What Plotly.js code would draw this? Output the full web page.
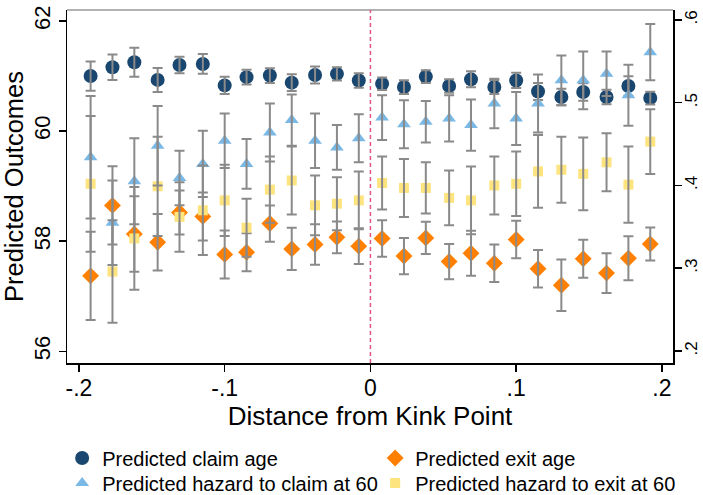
<!DOCTYPE html>
<html>
<head>
<meta charset="utf-8">
<script src="https://cdn.plot.ly/plotly-3.0.1.min.js"></script>
<style>html,body{margin:0;padding:0;background:#fff}#chart{width:703px;height:495px}</style>
</head>
<body>
<div id="chart"></div>
<script>
// Bin centres (distance from kink point)
const xBins = [-0.192,-0.177,-0.162,-0.146,-0.131,-0.115,-0.100,-0.085,-0.069,-0.054,-0.038,-0.023,-0.008,
               0.008,0.023,0.038,0.054,0.069,0.085,0.100,0.115,0.131,0.146,0.162,0.177,0.192];

// Left axis: predicted ages
const claimAge    = [61.00,61.16,61.25,60.93,61.20,61.22,60.83,60.98,61.01,60.88,61.02,61.04,60.92,
                     60.86,60.80,60.99,60.82,60.94,60.80,60.92,60.72,60.62,60.71,60.62,60.82,60.60];
const claimAgeErr = [0.265,0.233,0.263,0.218,0.151,0.179,0.157,0.134,0.134,0.151,0.154,0.121,0.131,
                     0.115,0.124,0.115,0.124,0.145,0.127,0.139,0.153,0.151,0.158,0.131,0.176,0.115];
const exitAge     = [57.37,58.65,58.13,57.98,58.52,58.45,57.76,57.80,58.32,57.86,57.94,58.07,57.91,
                     58.05,57.73,58.06,57.63,57.78,57.60,58.03,57.50,57.20,57.68,57.42,57.69,57.95];
const exitAgeErr  = [0.80,0.71,0.685,0.514,0.40,0.436,0.436,0.345,0.33,0.385,0.369,0.287,0.323,
                     0.332,0.33,0.294,0.32,0.41,0.342,0.34,0.34,0.467,0.345,0.363,0.40,0.30];

// Right axis: predicted hazards at 60
const hazClaim    = [0.434,0.355,0.405,0.448,0.409,0.426,0.454,0.426,0.464,0.479,0.454,0.446,0.457,
                     0.482,0.474,0.477,0.481,0.473,0.499,0.481,0.499,0.527,0.527,0.535,0.509,0.561];
const hazClaimErr = [0.074,0.051,0.052,0.048,0.033,0.040,0.033,0.030,0.035,0.031,0.033,0.027,0.029,
                     0.027,0.029,0.025,0.028,0.031,0.030,0.032,0.035,0.030,0.035,0.027,0.037,0.034];
const hazExit     = [0.402,0.296,0.336,0.399,0.362,0.370,0.382,0.349,0.395,0.406,0.376,0.378,0.382,
                     0.403,0.397,0.397,0.385,0.382,0.400,0.402,0.417,0.419,0.414,0.428,0.401,0.453];
const hazExitErr  = [0.082,0.062,0.062,0.060,0.042,0.054,0.043,0.035,0.040,0.041,0.036,0.032,0.035,
                     0.032,0.035,0.031,0.033,0.041,0.035,0.039,0.044,0.040,0.044,0.035,0.046,0.039];

const seriesNames = ['Predicted claim age','Predicted exit age',
                     'Predicted hazard to claim at 60','Predicted hazard to exit at 60'];
const xTickVals = [-0.2,-0.1,0,0.1,0.2];
const xTickText = ['-.2','-.1','0','.1','.2'];
const yTickVals = [56,58,60,62];
const y2TickVals = [0.2,0.3,0.4,0.5,0.6];
const y2TickText = ['.2','.3','.4','.5','.6'];

const errColor = '#8a8a8a';
function errTrace(y, err, axis){
  return {x:xBins, y:y, type:'scatter', mode:'markers', yaxis:axis, showlegend:false, hoverinfo:'skip',
    marker:{size:1, color:'rgba(0,0,0,0)'},
    error_y:{type:'data', array:err, visible:true, color:errColor, thickness:2, width:5}};
}

const data = [
  {x:xBins, y:claimAge, type:'scatter', mode:'markers', name:seriesNames[0], yaxis:'y', legend:'legend',
   marker:{symbol:'circle', size:14, color:'#1a476f'}},
  {x:xBins, y:exitAge, type:'scatter', mode:'markers', name:seriesNames[1], yaxis:'y', legend:'legend',
   marker:{symbol:'diamond', size:13, color:'#ff8000'}},
  errTrace(claimAge, claimAgeErr, 'y'),
  errTrace(exitAge, exitAgeErr, 'y'),
  {x:xBins, y:hazClaim, type:'scatter', mode:'markers', name:seriesNames[2], yaxis:'y2', legend:'legend2',
   marker:{symbol:'triangle-up', size:12, color:'#7ab8e6'}},
  {x:xBins, y:hazExit, type:'scatter', mode:'markers', name:seriesNames[3], yaxis:'y2', legend:'legend2',
   marker:{symbol:'square', size:10, color:'#fde47f'}},
  errTrace(hazClaim, hazClaimErr, 'y2'),
  errTrace(hazExit, hazExitErr, 'y2')
];

const font = 'Liberation Sans, Arial, Helvetica, sans-serif';
const legendBase = {orientation:'h', x:-0.008, xanchor:'left', yanchor:'middle',
    entrywidth:268, entrywidthmode:'pixels', font:{size:20}, itemsizing:'trace',
    bgcolor:'rgba(0,0,0,0)', traceorder:'normal'};
const layout = {
  width:703, height:495,
  margin:{l:67, r:30, t:10, b:132, autoexpand:false},
  paper_bgcolor:'#fff', plot_bgcolor:'#fff',
  font:{family:font, color:'#000'},
  showlegend:true,
  xaxis:{range:[-0.2082,0.2076], tickvals:xTickVals, ticktext:xTickText, showgrid:false, zeroline:false,
    ticks:'outside', ticklen:7, tickwidth:1.5, tickcolor:'#000', showline:true, linecolor:'#000', linewidth:1.5,
    tickfont:{size:23}, ticklabelstandoff:-3, title:{text:'Distance from Kink Point', font:{size:26}, standoff:0}},
  yaxis:{range:[55.787,62.2], tickvals:yTickVals, showgrid:false, zeroline:false,
    ticks:'outside', ticklen:7, tickwidth:1.5, tickcolor:'#000', showline:true, linecolor:'#000', linewidth:1.5,
    tickangle:-90, tickfont:{size:22}, title:{text:'Predicted Outcomes', font:{size:25.5}, standoff:6}},
  yaxis2:{range:[0.1855,0.612], overlaying:'y', side:'right', tickvals:y2TickVals, ticktext:y2TickText,
    showgrid:false, zeroline:false, ticks:'outside', ticklen:7, tickwidth:1.5, tickcolor:'#000',
    showline:true, linecolor:'#000', linewidth:1.5, tickangle:-90, tickfont:{size:17}, ticklabelstandoff:-5},
  shapes:[
    {type:'line', xref:'paper', yref:'paper', x0:0, x1:1, y0:1, y1:1, line:{color:'#666', width:1.2}},
    {type:'line', xref:'x', yref:'paper', x0:0, x1:0, y0:0, y1:1, line:{color:'#e0557f', width:1.5, dash:'4px,3px'}}
  ],
  legend: Object.assign({}, legendBase, {y:-0.269}),
  legend2: Object.assign({}, legendBase, {y:-0.340})
};

Plotly.newPlot('chart', data, layout, {displayModeBar:false, staticPlot:true});
</script>
</body>
</html>
